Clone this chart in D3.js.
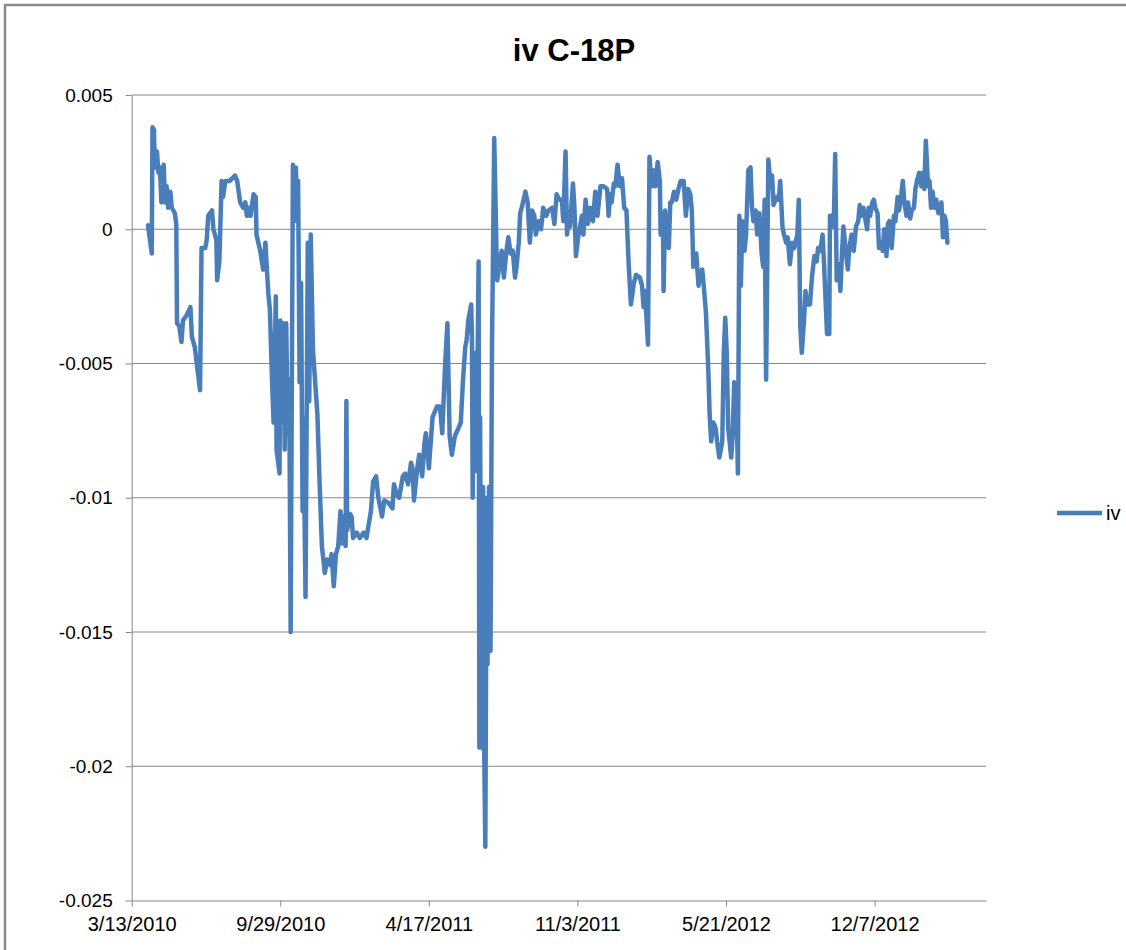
<!DOCTYPE html>
<html>
<head>
<meta charset="utf-8">
<script src="https://cdn.jsdelivr.net/npm/d3@7/dist/d3.min.js"></script>
<style>
  html, body { margin: 0; padding: 0; background: #fff; }
  svg { display: block; }
  text { font-family: "Liberation Sans", Arial, sans-serif; fill: #000; }
</style>
</head>
<body>
<svg id="chart" width="1126" height="950"></svg>
<script>
// ---- data -------------------------------------------------------------
const chartTitle = "iv C-18P";
const seriesName = "iv";
const startDate = "3/13/2010";

// observation dates, as days after the start date
const dayOffset = [
  22, 27, 28, 30, 31, 34, 36, 38, 40, 43,
  45, 47, 49, 52, 54, 58, 60, 61, 64, 67,
  69, 74, 79, 81, 85, 88, 92, 94, 99, 101,
  103, 108, 110, 114, 115, 118, 121, 123, 126, 132,
  139, 142, 146, 150, 153, 155, 158, 160, 164, 167,
  168, 173, 177, 180, 182, 184, 186, 189, 191, 194,
  195, 199, 200, 202, 204, 206, 208, 210, 212, 214,
  217, 219, 221, 223, 224, 226, 228, 230, 231, 234,
  237, 239, 241, 244, 247, 250, 253, 256, 260, 263,
  267, 269, 272, 275, 278, 281, 283, 285, 288, 289,
  290, 294, 296, 298, 303, 307, 312, 316, 319, 322,
  325, 329, 332, 337, 340, 346, 351, 353, 357, 360,
  365, 368, 372, 376, 378, 380, 384, 387, 391, 394,
  396, 400, 405, 411, 415, 418, 422, 425, 428, 431,
  435, 440, 443, 446, 449, 451, 453, 457, 458, 459,
  461, 464, 467, 468, 469, 471, 473, 474, 476, 478,
  479, 481, 483, 485, 486, 488, 491, 492, 495, 498,
  501, 504, 507, 510, 513, 516, 518, 521, 523, 525,
  530, 533, 536, 539, 542, 544, 548, 551, 554, 558,
  561, 566, 569, 572, 576, 579, 581, 584, 586, 588,
  590, 594, 596, 598, 601, 606, 608, 611, 614, 617,
  621, 624, 627, 631, 635, 640, 642, 644, 646, 649,
  651, 654, 657, 660, 663, 666, 669, 672, 676, 679,
  684, 687, 689, 691, 695, 697, 700, 702, 705, 708,
  711, 712, 715, 716, 718, 720, 723, 725, 727, 730,
  733, 736, 739, 743, 746, 749, 752, 754, 756, 760,
  763, 765, 768, 770, 773, 776, 778, 780, 783, 786,
  788, 791, 795, 797, 799, 801, 803, 807, 809, 811,
  814, 816, 818, 820, 822, 825, 827, 830, 833, 835,
  837, 840, 842, 845, 848, 850, 852, 854, 857, 860,
  862, 864, 868, 871, 873, 876, 878, 881, 883, 886,
  889, 892, 896, 898, 900, 902, 905, 907, 909, 913,
  916, 919, 922, 924, 927, 930, 932, 936, 939, 940,
  943, 945, 947, 949, 952, 954, 956, 958, 962, 964,
  966, 969, 972, 975, 978, 980, 982, 985, 988, 990,
  992, 994, 997, 999, 1001, 1004, 1006, 1009, 1011, 1013,
  1016, 1018, 1020, 1023, 1026, 1028, 1031, 1033, 1036, 1038,
  1040, 1043, 1045, 1048, 1050, 1053, 1055, 1057, 1060, 1063,
  1065, 1067, 1069, 1072, 1074, 1076, 1078, 1081, 1083, 1086,
  1088, 1090, 1092, 1094, 1096, 1098
];

// iv series values
const ivValues = [
  0.00015, -0.0009, 0.0038, 0.0037, 0.0023, 0.0029, 0.0021, 0.0023, 0.0010, 0.0024,
  0.0010, 0.0016, 0.0008, 0.0014, 0.0008, 0.0006, 0.0002, -0.0035, -0.0036, -0.0042,
  -0.0034, -0.0032, -0.0029, -0.0040, -0.0044, -0.0051, -0.0060, -0.0007, -0.0007, -0.0004,
  0.0005, 0.0007, 0.0000, -0.0004, -0.0019, -0.0012, 0.0018, 0.0012, 0.0018, 0.0018,
  0.0020, 0.0018, 0.0010, 0.0008, 0.0010, 0.0005, 0.0008, 0.0005, 0.0013, 0.0012,
  -0.0002, -0.0008, -0.0015, -0.0005, -0.0015, -0.0024, -0.0030, -0.0057, -0.0072, -0.0025,
  -0.0082, -0.0091, -0.0034, -0.0072, -0.0035, -0.0082, -0.0035, -0.0076, -0.0056, -0.0150,
  0.0024, 0.0003, 0.0023, 0.0005, 0.0018, -0.0057, -0.0020, -0.0105, -0.0070, -0.0137,
  -0.0005, -0.0064, -0.0002, -0.0045, -0.0057, -0.0069, -0.0095, -0.0118, -0.0128, -0.0123,
  -0.0125, -0.0121, -0.0133, -0.0121, -0.0118, -0.0105, -0.0117, -0.0107, -0.0118, -0.0064,
  -0.0112, -0.0106, -0.0107, -0.0115, -0.0113, -0.0115, -0.0113, -0.0115, -0.0110, -0.0105,
  -0.0094, -0.0092, -0.0100, -0.0107, -0.0101, -0.0102, -0.0104, -0.0095, -0.0099, -0.0100,
  -0.0092, -0.0091, -0.0095, -0.0087, -0.0089, -0.0101, -0.0090, -0.0084, -0.0092, -0.0080,
  -0.0076, -0.0089, -0.0070, -0.0066, -0.0066, -0.0076, -0.0050, -0.0035, -0.0077, -0.0084,
  -0.0077, -0.0074, -0.0072, -0.0056, -0.0044, -0.0041, -0.0034, -0.0028, -0.0040, -0.0100,
  -0.0046, -0.0090, -0.0012, -0.0193, -0.0070, -0.0193, -0.0096, -0.0180, -0.0230, -0.0100,
  -0.0162, -0.0096, -0.0157, -0.0043, -0.0019, 0.0034, -0.0007, -0.0019, -0.0014, -0.0008,
  -0.0018, -0.0009, -0.0003, -0.0009, -0.0008, -0.0018, -0.0014, -0.0005, 0.0006, 0.0008,
  0.0014, 0.0010, -0.0005, 0.0007, 0.0005, -0.0002, 0.0003, 0.0000, 0.0008, 0.0005,
  0.0007, 0.0008, 0.0002, 0.0013, 0.0011, 0.0011, 0.0003, 0.0029, -0.0002, 0.0003,
  0.0001, 0.0017, 0.0008, -0.0010, -0.0003, 0.0005, -0.0002, 0.0011, 0.0002, 0.0008,
  0.0003, 0.0014, 0.0005, 0.0016, 0.0016, 0.0015, 0.0005, 0.0013, 0.0010, 0.0017,
  0.0016, 0.0024, 0.0016, 0.0019, 0.0008, 0.0007, -0.0013, -0.0028, -0.0020, -0.0017,
  -0.0018, -0.0021, -0.0029, -0.0023, -0.0043, 0.0027, 0.0016, 0.0022, 0.0016, 0.0025,
  0.0018, -0.0002, 0.0006, -0.0023, 0.0007, 0.0000, -0.0007, 0.0010, 0.0010, 0.0014,
  0.0011, 0.0015, 0.0018, 0.0018, 0.0005, 0.0015, 0.0013, 0.0007, -0.0014, -0.0009,
  -0.0021, -0.0016, -0.0015, -0.0021, -0.0031, -0.0051, -0.0069, -0.0079, -0.0072, -0.0074,
  -0.0079, -0.0085, -0.0079, -0.0046, -0.0033, -0.0046, -0.0074, -0.0085, -0.0077, -0.0057,
  -0.0059, -0.0091, 0.0005, -0.0021, 0.0003, -0.0008, -0.0002, 0.0022, 0.0023, 0.0008,
  0.0003, 0.0007, -0.0002, 0.0006, -0.0009, -0.0014, 0.0011, -0.0056, 0.0026, 0.0016,
  0.0020, 0.0009, 0.0012, 0.0011, 0.0018, 0.0001, -0.0002, -0.0005, -0.0003, -0.0013,
  -0.0005, -0.0007, -0.0002, 0.0011, -0.0036, -0.0046, -0.0034, -0.0023, -0.0028, -0.0028,
  -0.0017, -0.0010, -0.0012, -0.0007, -0.0008, -0.0002, -0.0013, -0.0039, -0.0039, 0.0005,
  0.0005, 0.0001, 0.0028, -0.0019, -0.0013, -0.0023, -0.0010, 0.0001, -0.0010, -0.0015,
  -0.0007, -0.0002, -0.0008, 0.0001, 0.0003, 0.0009, 0.0005, 0.0008, 0.0003, 0.0000,
  0.0008, 0.0005, 0.0010, 0.0011, 0.0008, 0.0006, -0.0007, -0.0005, -0.0008, 0.0000,
  -0.0010, 0.0002, 0.0003, -0.0007, 0.0005, 0.0003, 0.0012, 0.0007, 0.0013, 0.0018,
  0.0010, 0.0005, 0.0010, 0.0004, 0.0007, 0.0008, 0.0015, 0.0018, 0.0021, 0.0016,
  0.0021, 0.0015, 0.0033, 0.0016, 0.0018, 0.0008, 0.0014, 0.0008, 0.0011, 0.0006,
  0.0007, 0.0010, -0.0003, 0.0005, 0.0003, -0.0005
];

// axis ticks
const xTickLabels = ["3/13/2010", "9/29/2010", "4/17/2011", "11/3/2011", "5/21/2012", "12/7/2012"];
const yTicks = [0.005, 0, -0.005, -0.01, -0.015, -0.02, -0.025];
const axisEndDays = 1150;

// ---- setup ------------------------------------------------------------
const parse = d3.utcParse("%m/%d/%Y");
const fmt = d3.utcFormat("%-m/%-d/%Y");
const t0 = parse(startDate);
const series = dayOffset.map((d, i) => ({ date: d3.utcDay.offset(t0, d), value: ivValues[i] }));

const plot = { left: 131.7, right: 986, top: 95, bottom: 900.5 };

const x = d3.scaleUtc()
  .domain([t0, d3.utcDay.offset(t0, axisEndDays)])
  .range([plot.left, plot.right]);

const y = d3.scaleLinear()
  .domain([d3.min(yTicks), d3.max(yTicks)])
  .range([plot.bottom, plot.top]);

const svg = d3.select("#chart");
const gridColor = "#878787";
const lineColor = "#4A7EBB";

// outer chart frame
svg.append("path")
  .attr("d", "M5,950 L5,5 L1126,5")
  .attr("fill", "none")
  .attr("stroke", "#8a8a8a")
  .attr("stroke-width", 2.5);

// title
svg.append("text")
  .attr("x", 574)
  .attr("y", 61)
  .attr("text-anchor", "middle")
  .style("font-size", "31px")
  .style("font-weight", "bold")
  .text(chartTitle);

// horizontal gridlines
svg.append("g")
  .selectAll("line")
  .data(yTicks.filter(v => v !== d3.min(yTicks)))
  .join("line")
  .attr("x1", plot.left)
  .attr("x2", plot.right)
  .attr("y1", d => y(d))
  .attr("y2", d => y(d))
  .attr("stroke", gridColor)
  .attr("stroke-width", 1);

// y axis
const yAxis = d3.axisLeft(y)
  .tickValues(yTicks)
  .tickFormat(d => d === 0 ? "0" : String(+d.toFixed(3)))
  .tickSize(6)
  .tickPadding(13)
  .tickSizeOuter(0);

const gy = svg.append("g")
  .attr("transform", `translate(${plot.left},0)`)
  .call(yAxis);
gy.select(".domain").attr("stroke", gridColor);
gy.selectAll(".tick line").attr("stroke", gridColor);
gy.selectAll(".tick text")
  .style("font-size", "19px")
  .attr("font-family", null)
  .attr("fill", "#000");

// x axis
const xTickDates = xTickLabels.map(parse);
const xAxis = d3.axisBottom(x)
  .tickValues(xTickDates)
  .tickFormat(fmt)
  .tickSize(6)
  .tickPadding(10)
  .tickSizeOuter(0);

const gx = svg.append("g")
  .attr("transform", `translate(0,${plot.bottom})`)
  .call(xAxis);
gx.select(".domain").attr("stroke", gridColor);
gx.selectAll(".tick line").attr("stroke", gridColor);
gx.selectAll(".tick text")
  .style("font-size", "20px")
  .attr("font-family", null)
  .attr("fill", "#000");

// iv line
const line = d3.line()
  .x(d => x(d.date))
  .y(d => y(d.value));

svg.append("path")
  .datum(series)
  .attr("d", line)
  .attr("fill", "none")
  .attr("stroke", lineColor)
  .attr("stroke-width", 4.5)
  .attr("stroke-linejoin", "round")
  .attr("stroke-linecap", "round");

// legend
const legend = svg.append("g").attr("transform", "translate(1057,513)");
legend.append("line")
  .attr("x1", 0).attr("x2", 45)
  .attr("y1", 0).attr("y2", 0)
  .attr("stroke", lineColor)
  .attr("stroke-width", 4.5);
legend.append("text")
  .attr("x", 49)
  .attr("y", 0)
  .attr("dy", "0.35em")
  .style("font-size", "20px")
  .text(seriesName);
</script>
</body>
</html>
